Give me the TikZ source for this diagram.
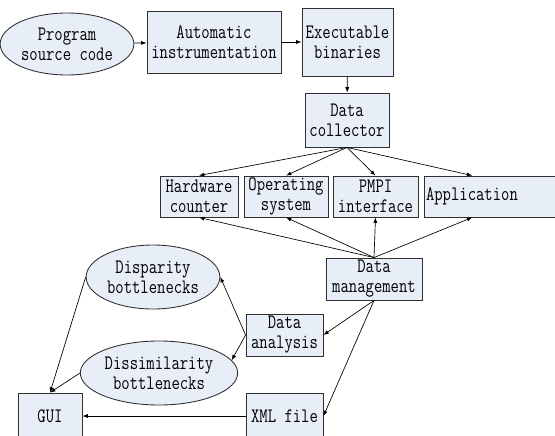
\documentclass[tikz,border=0pt]{standalone}
\usepackage{fontspec}
\setmonofont{Latin Modern Mono}[FakeStretch=0.79]
\usepackage{tikz}
\usetikzlibrary{shapes.geometric, arrows.meta, positioning}
\definecolor{flowfill}{HTML}{E8EEF7}
\definecolor{flowline}{HTML}{303030}

\begin{document}
\begin{tikzpicture}[
  x=0.75pt, y=-0.75pt,
  flowbox/.style={
    rectangle,
    draw=flowline,
    fill=flowfill,
    line width=0.65pt,
    inner sep=1pt,
    align=center,
    font=\ttfamily\fontsize{15.4}{15}\selectfont
  },
  flowoval/.style={
    flowbox,
    ellipse
  },
  arrow/.style={-{Latex[length=4pt,width=3pt]}, line width=0.5pt, black}
]
  \useasboundingbox (0,0) rectangle (555,435);
  \clip (0,0) rectangle (555,435);

  \node[flowoval, minimum width=124*0.75pt, minimum height=62*0.75pt] (source) at (67,44) {Program\\source code};
  \node[flowbox, minimum width=134*0.75pt, minimum height=62*0.75pt] (instr) at (214,42) {Automatic\\instrumentation};
  \node[flowbox, minimum width=91*0.75pt, minimum height=68*0.75pt] (binaries) at (347.5,42) {Executable\\binaries};
  \node[flowbox, minimum width=84*0.75pt, minimum height=54*0.75pt] (collector) at (347,120) {Data\\collector};

  \node[flowbox, minimum width=78*0.75pt, minimum height=41*0.75pt] (hardware) at (199,196.5) {Hardware\\counter};
  \node[flowbox, minimum width=84*0.75pt, minimum height=41*0.75pt] (opsys) at (286,196.5) {Operating\\system};
  \node[flowbox, minimum width=85*0.75pt, minimum height=41*0.75pt] (pmpi) at (375.5,196.5) {PMPI\\interface};
  \node[flowbox, text width=146*0.75pt, align=left, minimum height=41*0.75pt] (app) at (499,196.5) {Application};

  \node[flowbox, minimum width=96*0.75pt, minimum height=42*0.75pt] (manage) at (374,279) {Data\\management};
  \node[flowbox, minimum width=77*0.75pt, minimum height=42*0.75pt] (analysis) at (284.5,335) {Data\\analysis};
  \node[flowbox, minimum width=77*0.75pt, minimum height=46*0.75pt] (xml) at (284.5,416) {XML file};
  \node[flowbox, minimum width=64*0.75pt, minimum height=46*0.75pt] (gui) at (50,416) {GUI};

  \node[flowoval, minimum width=124*0.75pt, minimum height=64*0.75pt] (disparity) at (153,277) {Disparity\\bottlenecks};
  \node[flowoval, minimum width=134*0.75pt, minimum height=64*0.75pt] (dissim) at (159,373) {Dissimilarity\\bottlenecks};

  \draw[arrow] (source) -- (instr);
  \draw[arrow] (instr) -- (binaries);
  \draw[arrow] (binaries) -- (collector);

  \draw[arrow] (collector.south) -- (hardware.north);
  \draw[arrow] (collector.south) -- (opsys.north);
  \draw[arrow] (collector.south) -- (pmpi.north);
  \draw[arrow] (collector.south) -- ([xshift=36pt]app.north west);

  \draw[arrow] (manage.north) -- (hardware.south);
  \draw[arrow] (manage.north) -- (opsys.south);
  \draw[arrow] (manage.north) -- (pmpi.south);
  \draw[arrow] (manage.north) -- ([xshift=36pt]app.south west);

  \draw[arrow] (manage.south) -- (analysis.east);
  \draw[arrow] (manage.south) -- (xml.east);

  \draw[arrow] (analysis.west) -- (disparity.east);
  \draw[arrow] (analysis.west) -- (dissim.10);
  \draw[arrow] (disparity.west) -- (gui.north);
  \draw[arrow] (dissim.west) -- (gui.north);
  \draw[arrow] (xml.west) -- (gui.east);
\end{tikzpicture}
\end{document}
